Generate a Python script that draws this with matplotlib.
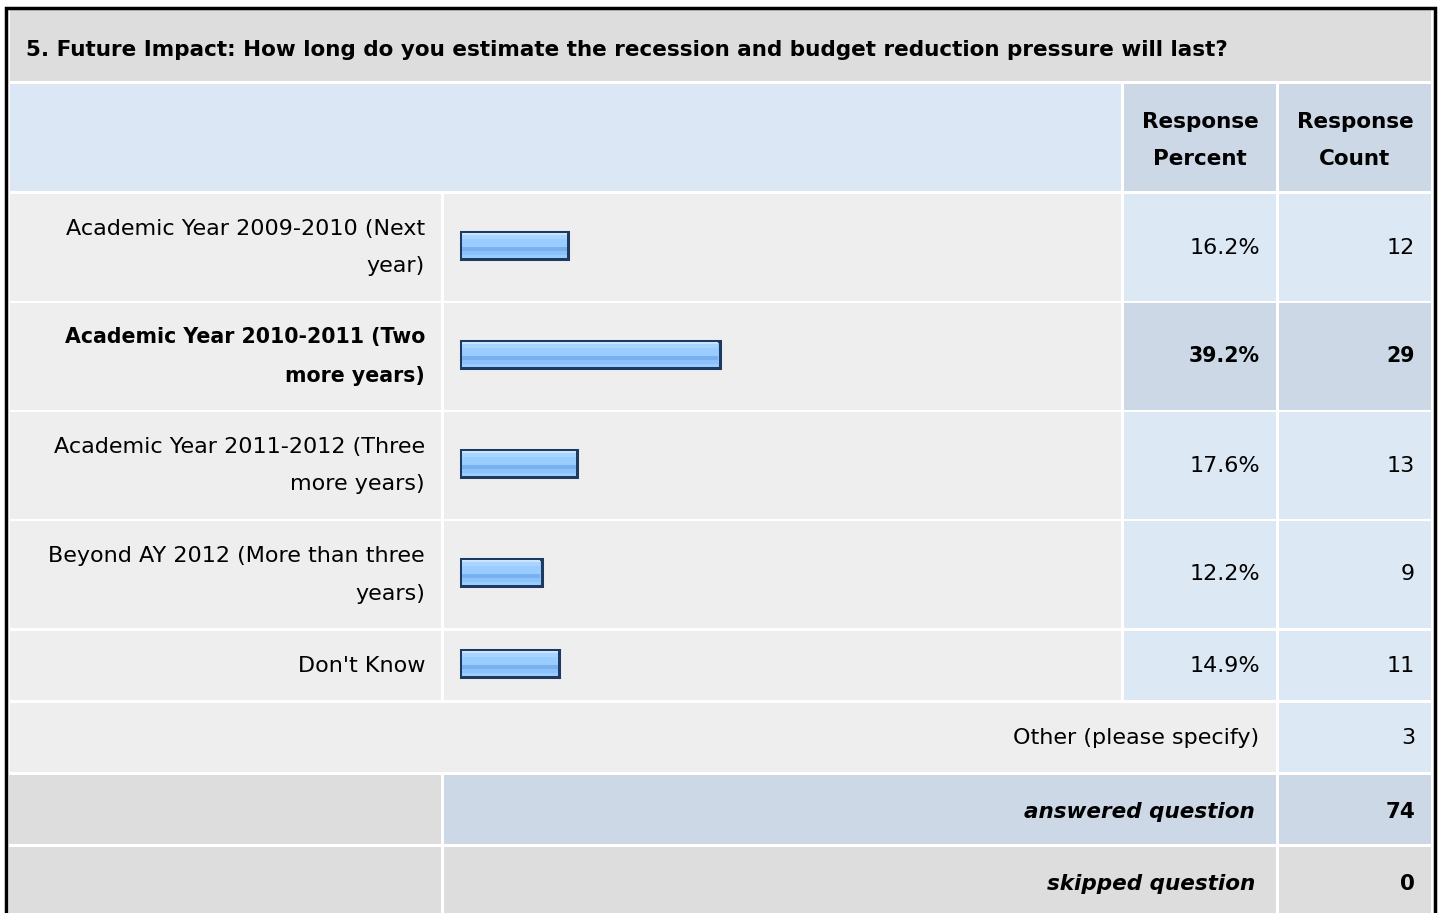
import matplotlib
matplotlib.use("Agg")
from matplotlib import pyplot as plt
from matplotlib.patches import Rectangle

plt.rcParams['font.family'] = ['DejaVu Sans']

# survey data
title = "5. Future Impact: How long do you estimate the recession and budget reduction pressure will last?"
answer_labels = [
    ["Academic Year 2009-2010 (Next", "year)"],
    ["Academic Year 2010-2011 (Two", "more years)"],
    ["Academic Year 2011-2012 (Three", "more years)"],
    ["Beyond AY 2012 (More than three", "years)"],
    ["Don't Know"],
]
percents = [16.2, 39.2, 17.6, 12.2, 14.9]
counts = [12, 29, 13, 9, 11]
other_label = "Other (please specify)"
other_count = 3
answered = 74
skipped = 0

# layout in pixels
row_tops = [194, 303, 412, 521, 631]
row_bots = [301, 410, 519, 628, 700]
px_per_pct = 6.6
bar_left = 461
fs = 16       # normal text
fsb = 15.5    # bold text

GRAY = '#dddddd'
ROW = '#eeeeee'
BLUE = '#dde8f5'
BLUE2 = '#ccd8e6'

fig = plt.figure(figsize=(14.4, 9.13), dpi=100)
ax = fig.add_axes([0, 0, 1, 1])
ax.set_xlim(0, 1440)
ax.set_ylim(913, 0)
ax.axis('off')


def cell(x0, y0, x1, y1, color):
    ax.add_patch(Rectangle((x0, y0), x1 - x0, y1 - y0, facecolor=color, edgecolor='none'))


# title + header
cell(10, 10, 1431, 81, GRAY)
ax.text(26, 50, title, fontsize=fsb, fontweight='bold', va='center', ha='left')
cell(10, 84, 1121, 191, '#dce7f5')
cell(1124, 84, 1276, 191, BLUE2)
cell(1279, 84, 1431, 191, BLUE2)
for cx, words in [(1200, ["Response", "Percent"]), (1355, ["Response", "Count"])]:
    ax.text(cx, 122, words[0], fontsize=fsb, fontweight='bold', ha='center', va='center')
    ax.text(cx, 159, words[1], fontsize=fsb, fontweight='bold', ha='center', va='center')

top_idx = percents.index(max(percents))
centers = []
for i, (t, b) in enumerate(zip(row_tops, row_bots)):
    hl = i == top_idx
    cell(10, t, 441, b, ROW)
    cell(444, t, 1121, b, ROW)
    cell(1124, t, 1276, b, BLUE2 if hl else BLUE)
    cell(1279, t, 1431, b, BLUE2 if hl else BLUE)
    c = (t + b) / 2
    centers.append(c)
    w = 'bold' if hl else 'normal'
    s = 14.8 if hl else fs
    lines = answer_labels[i]
    if len(lines) == 1:
        ax.text(425, c, lines[0], fontsize=s, fontweight=w, ha='right', va='center')
    else:
        ax.text(425, c - 19, lines[0], fontsize=s, fontweight=w, ha='right', va='center')
        ax.text(425, c + 19, lines[1], fontsize=s, fontweight=w, ha='right', va='center')
    ax.text(1260, c, f"{percents[i]:.1f}%", fontsize=s, fontweight=w, ha='right', va='center')
    ax.text(1415, c, str(counts[i]), fontsize=s, fontweight=w, ha='right', va='center')

# bars with a glossy look
widths = [p * px_per_pct for p in percents]
bar_y = [c - 2 for c in centers]
ax.barh(bar_y, widths, height=27, left=bar_left, color='#99ccff',
        edgecolor='#1f3a5f', linewidth=2.2, zorder=3)
bands = [(-12.5, 2, '#c8e4ff'), (-10.5, 4, '#a8d4ff'), (-6.5, 8, '#99ccff'),
         (1.5, 4, '#78b0f0'), (5.5, 4, '#8cc2fa'), (9.5, 3, '#99ccff')]
for off, h, col in bands:
    ax.barh([y + off + h / 2 for y in bar_y], [w - 2.5 for w in widths], height=h,
            left=bar_left + 1.2, color=col, edgecolor='none', zorder=4)

# other row
cell(10, 703, 1276, 772, ROW)
cell(1279, 703, 1431, 772, BLUE)
ax.text(1259, 738, other_label, fontsize=fs, ha='right', va='center')
ax.text(1415, 738, str(other_count), fontsize=fs, ha='right', va='center')

# answered / skipped
cell(9, 775, 441, 844, GRAY)
cell(444, 775, 1276, 844, BLUE2)
cell(1279, 775, 1431, 844, BLUE2)
ax.text(1255, 812, "answered question", fontsize=fsb, fontweight='bold', style='italic',
        ha='right', va='center')
ax.text(1415, 812, str(answered), fontsize=fsb, fontweight='bold', ha='right', va='center')
cell(9, 847, 441, 913, GRAY)
cell(444, 847, 1276, 913, GRAY)
cell(1279, 847, 1431, 913, GRAY)
ax.text(1255, 884, "skipped question", fontsize=fsb, fontweight='bold', style='italic',
        ha='right', va='center')
ax.text(1415, 884, str(skipped), fontsize=fsb, fontweight='bold', ha='right', va='center')

# outer frame
ax.plot([5.5, 5.5, 1434.5, 1434.5], [920, 8, 8, 920], color='black', lw=2.5,
        solid_joinstyle='miter', zorder=5)

fig.savefig("out.png", dpi=100, facecolor='white')
